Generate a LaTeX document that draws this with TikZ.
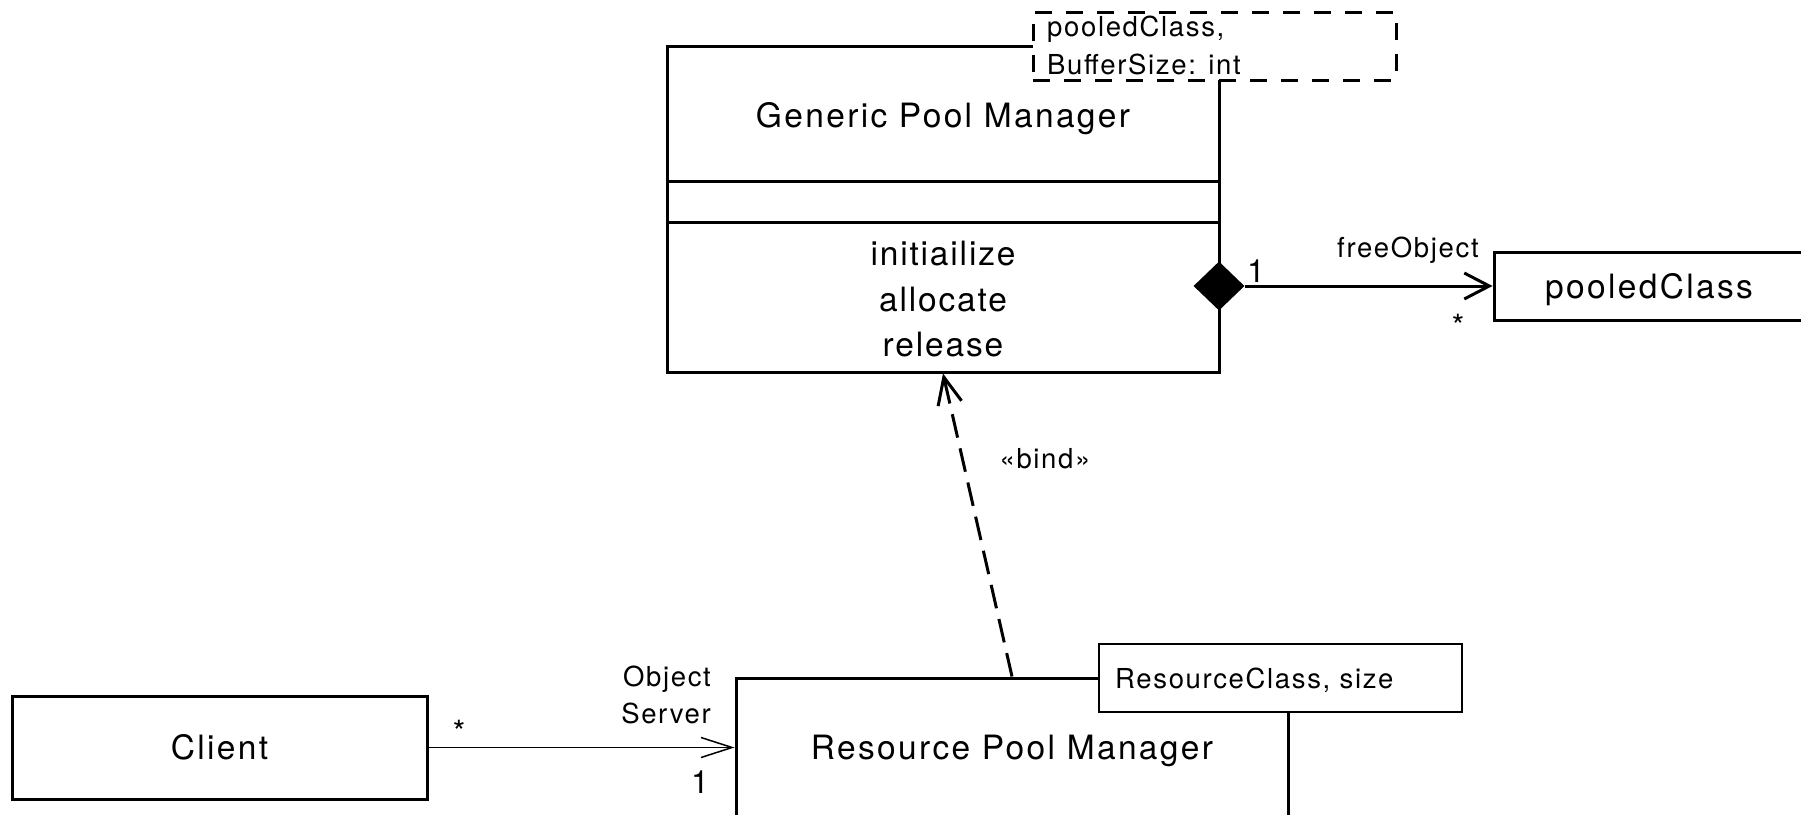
\documentclass[tikz,border=0pt]{standalone}
\usepackage{fontspec}
\setmainfont{TeX Gyre Heros}
\newfontfamily\bigf[LetterSpace=7]{TeX Gyre Heros}
\newfontfamily\opf[LetterSpace=5.5]{TeX Gyre Heros}
\newfontfamily\smallf[LetterSpace=6]{TeX Gyre Heros}
\usetikzlibrary{arrows.meta,shapes.geometric,calc}
\begin{document}
\begin{tikzpicture}[x=1pt,y=-1pt,
  cls/.style={draw, line width=3pt, inner sep=0pt, rectangle},
  bigt/.style={font=\bigf\fontsize{33.5}{40}\selectfont, inner sep=0pt},
  opt/.style={font=\opf\fontsize{33.5}{40}\selectfont, inner sep=0pt},
  smallt/.style={font=\smallf\fontsize{27.5}{33}\selectfont, inner sep=0pt},
  mult/.style={font=\bigf\fontsize{32}{38}\selectfont, inner sep=0pt},
  thick line/.style={line width=3pt},
  thin line/.style={line width=1.5pt}]
\useasboundingbox (0,0) rectangle (1801,814);
\clip (0,0) rectangle (1801,814);

% Generic Pool Manager
\node[cls, minimum width=552pt, minimum height=326pt] (gpm) at (943,209) {};
\draw[thick line] ($(gpm.north west)+(0,137)$) -- ($(gpm.north east)+(0,137)$);
\draw[thick line] ($(gpm.north west)+(0,178)$) -- ($(gpm.north east)+(0,178)$);
\node[bigt, anchor=base] (gpmname) at (943,127) {Generic Pool Manager};
\node[opt, anchor=base] (op1) at (943,265) {initiailize};
\node[opt, anchor=base] (op2) at (943,311) {allocate};
\node[opt, anchor=base] (op3) at (943,356) {release};

% template parameters (dashed)
\node[draw, fill=white, thick line, dash pattern=on 17pt off 14pt,
      minimum width=363pt, minimum height=68pt, inner sep=0pt] (tpl) at (1214.5,46) {};
\node[smallt, anchor=base west] (tpl1) at (1047,36) {pooledClass,};
\node[smallt, anchor=base west] (tpl2) at (1047,74) {BufferSize: int};

% composition
\node[diamond, fill=black, minimum width=51pt, minimum height=49pt, inner sep=0pt] (dia) at (1219,286) {};
\node[cls, bigt, minimum width=310pt, minimum height=68pt, text height=24pt, text depth=0pt] (pooled) at (1649,286) {pooledClass};
\draw[thick line, -{Straight Barb[length=25pt,width=26pt]}] (dia.east) -- (pooled.west);
\node[smallt, anchor=base west] (fo) at (1337,257) {freeObject};
\node[mult, anchor=base west] (m1) at (1247,282) {1};
\node[mult, anchor=base] (m2) at (1458,337) {*};

% Client
\node[cls, bigt, minimum width=415pt, minimum height=103pt, text height=24pt, text depth=0pt] (client) at (219.5,747.5) {Client};

% Resource Pool Manager
\node[cls, minimum width=552pt, minimum height=300pt] (rpm) at (1012,828) {};
\node[bigt, anchor=base] (rpmname) at (1012,759) {Resource Pool Manager};
\node[draw, fill=white, thin line, minimum width=363pt, minimum height=68pt, inner sep=0pt] (rc) at (1280.5,678) {};
\node[smallt, anchor=base west] (rctext) at (1115,688) {ResourceClass, size};

% Client -> RPM
\draw[thin line, -{Straight Barb[length=31pt,width=20pt]}] (client.east) -- (rpm.west |- client.east);
\node[mult, anchor=base] (m3) at (459,743) {*};
\node[smallt, anchor=base east] (os1) at (711,686) {Object};
\node[smallt, anchor=base east] (os2) at (711,723) {Server};
\node[mult, anchor=base] (m4) at (700,793) {1};

% bind
\draw[thick line, dash pattern=on 24pt off 11pt, -{Straight Barb[length=27pt,width=24pt]}] (rpm.north) -- (gpm.south);
\node[smallt, anchor=base] (bind) at (1045,468) {«bind»};
\end{tikzpicture}
\end{document}
